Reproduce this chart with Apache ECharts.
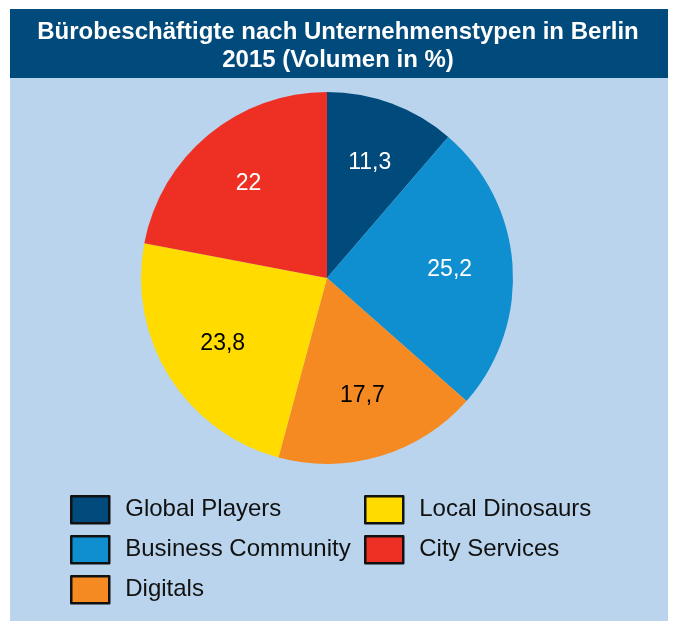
<!DOCTYPE html>
<html>
<head>
<meta charset="utf-8">
<script src="https://cdn.jsdelivr.net/npm/echarts@6.0.0/dist/echarts.min.js"></script>
<style>
  html, body { margin: 0; padding: 0; background: #fff; }
  #chart { width: 674px; height: 621px; }
</style>
</head>
<body>
<div id="chart"></div>
<script>
(function () {
  'use strict';

  // --- Data ---
  var categories = ['Global Players', 'Business Community', 'Digitals', 'Local Dinosaurs', 'City Services'];
  var values = [11.3, 25.2, 17.7, 23.8, 22];
  var colors = ['#004a7c', '#0f8fcf', '#f48a21', '#ffdb00', '#ee3024'];
  var labelColors = ['#fff', '#fff', '#000', '#000', '#fff'];

  var titleText = 'Bürobeschäftigte nach Unternehmenstypen in Berlin\n2015 (Volumen in %)';

  function fmt(v) {
    return String(v).replace('.', ',');
  }

  var pieData = categories.map(function (name, i) {
    return { name: name, value: values[i], itemStyle: { color: colors[i] } };
  });

  var labelData = categories.map(function (name, i) {
    return {
      name: name,
      value: values[i],
      label: { color: labelColors[i] }
    };
  });

  var chart = echarts.init(document.getElementById('chart'), null, { renderer: 'canvas' });

  var legendBase = {
    orient: 'vertical',
    icon: 'rect',
    padding: 0,
    itemWidth: 38,
    itemHeight: 27,
    itemGap: 10.5,
    itemStyle: { borderColor: '#111', borderWidth: 2.5 },
    textStyle: {
      fontFamily: 'Liberation Sans, Arial, sans-serif',
      fontSize: 24,
      color: '#111',
      padding: [0, 0, 0, 11]
    },
    selectedMode: false
  };

  var option = {
    backgroundColor: '#fff',
    animation: false,
    graphic: [
      { type: 'rect', z: -10, shape: { x: 10, y: 9, width: 658, height: 612 }, style: { fill: '#b9d4ec' } },
      { type: 'rect', z: -9, shape: { x: 10, y: 9, width: 658, height: 69 }, style: { fill: '#004a7c' } }
    ],
    title: {
      text: titleText,
      left: 333,
      textAlign: 'center',
      top: 13,
      textStyle: {
        fontFamily: 'Liberation Sans, Arial, sans-serif',
        fontSize: 24,
        fontWeight: 'bold',
        color: '#fff',
        lineHeight: 28
      }
    },
    legend: [
      Object.assign({}, legendBase, { left: 70, top: 495, data: categories.slice(0, 3) }),
      Object.assign({}, legendBase, { left: 364, top: 495, data: categories.slice(3) })
    ],
    series: [
      {
        type: 'pie',
        center: [327, 278],
        radius: [0, 186],
        startAngle: 90,
        clockwise: true,
        silent: true,
        label: { show: false },
        labelLine: { show: false },
        itemStyle: { borderWidth: 0 },
        data: pieData
      },
      {
        // transparent overlay that only places the value labels
        type: 'pie',
        center: [327, 278],
        radius: [60, 180],
        startAngle: 90,
        clockwise: true,
        silent: true,
        legendHoverLink: false,
        itemStyle: { color: 'rgba(0,0,0,0)' },
        label: {
          show: true,
          position: 'inside',
          fontFamily: 'Liberation Sans, Arial, sans-serif',
          fontSize: 23,
          formatter: function (p) { return fmt(p.value); }
        },
        labelLine: { show: false },
        data: labelData
      }
    ]
  };

  chart.setOption(option);
})();
</script>
</body>
</html>
